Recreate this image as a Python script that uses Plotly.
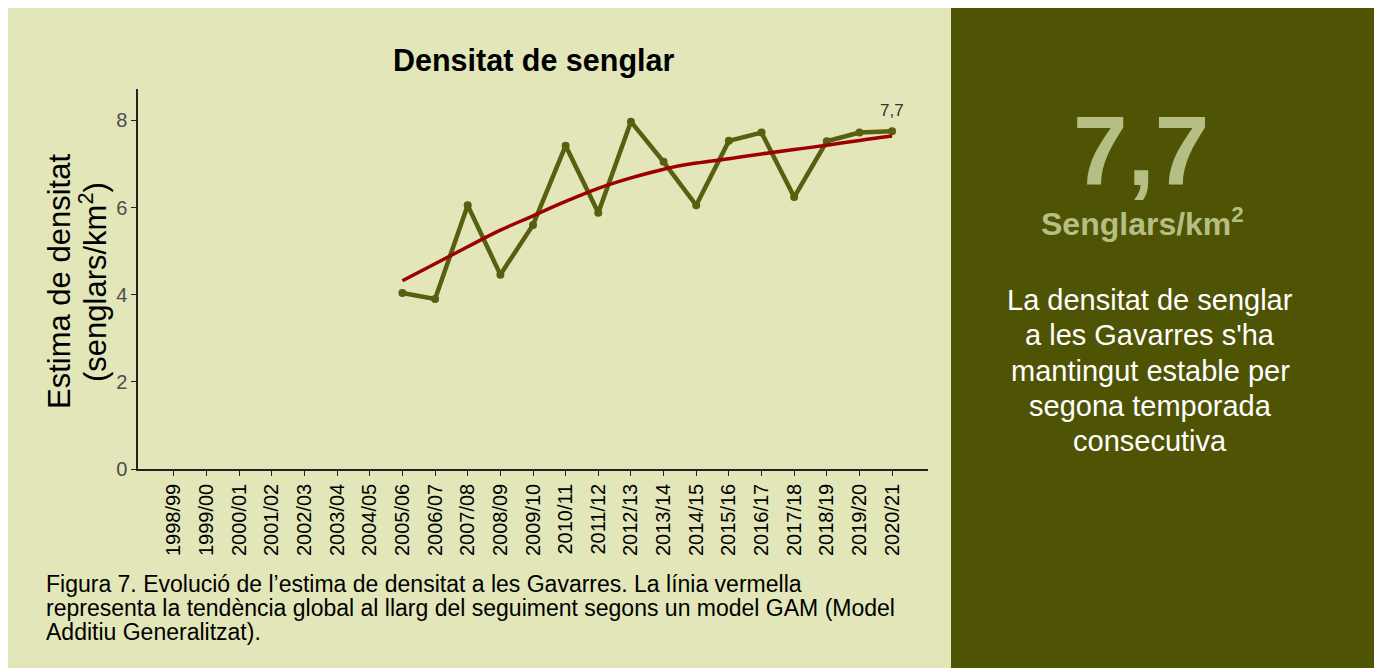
"""Densitat de senglar a les Gavarres - recreated with Plotly."""

import plotly.graph_objects as go

seasons = [
    "1998/99", "1999/00", "2000/01", "2001/02", "2002/03", "2003/04",
    "2004/05", "2005/06", "2006/07", "2007/08", "2008/09", "2009/10",
    "2010/11", "2011/12", "2012/13", "2013/14", "2014/15", "2015/16",
    "2016/17", "2017/18", "2018/19", "2019/20", "2020/21",
]
sampled_seasons = seasons[7:]
density = [4.04, 3.90, 6.05, 4.46, 5.60, 7.42, 5.88, 7.97, 7.05, 6.05,
           7.53, 7.72, 6.24, 7.52, 7.72, 7.75]
gam_trend = [4.32, 4.71, 5.10, 5.48, 5.81, 6.14, 6.44, 6.68, 6.88, 7.02,
             7.12, 7.23, 7.33, 7.43, 7.54, 7.64]
last_label = "7,7"

caption_lines = [
    "Figura 7. Evolució de l’estima de densitat a les Gavarres. La línia vermella",
    "representa la tendència global al llarg del seguiment segons un model GAM (Model",
    "Additiu Generalitzat).",
]
side_lines = [
    "La densitat de senglar",
    "a les Gavarres s'ha",
    "mantingut estable per",
    "segona temporada",
    "consecutiva",
]

FONT = "Liberation Sans, Arial, sans-serif"
LIGHT = "#E2E6B9"
DARK = "#4F5304"
PALE = "#B5BF83"
OLIVE = "#566010"
RED = "#9E0000"

# the page body adds an 8px margin, so the figure is drawn 8px smaller
OFF = 8
FIG_W, FIG_H = 1382 - OFF, 668 - OFF

# plot area in page pixels
L, R, T, B = 138, 928, 89, 469
W, H = R - L, B - T


def px_x(p):
    return (p - L) / W


def px_y(p):
    return (B - p) / H


fig = go.Figure()
fig.add_trace(
    go.Scatter(
        x=sampled_seasons,
        y=density,
        mode="lines+markers",
        line=dict(color=OLIVE, width=4.5),
        marker=dict(color=OLIVE, size=8),
        showlegend=False,
    )
)
fig.add_trace(
    go.Scatter(
        x=sampled_seasons,
        y=gam_trend,
        mode="lines",
        line=dict(color=RED, width=3.5, shape="spline"),
        showlegend=False,
    )
)

shapes = [
    dict(type="rect", xref="paper", yref="paper", layer="below",
         x0=px_x(OFF), x1=px_x(951), y0=px_y(668), y1=px_y(OFF),
         fillcolor=LIGHT, line_width=0),
    dict(type="rect", xref="paper", yref="paper", layer="below",
         x0=px_x(951), x1=px_x(1382), y0=px_y(668), y1=px_y(OFF),
         fillcolor=DARK, line_width=0),
]

annotations = [
    dict(text="<b>Densitat de senglar</b>", x=px_x(533), y=px_y(60),
         font=dict(size=30.5, color="#000000")),
    dict(text="Estima de densitat", x=px_x(59), y=px_y(282),
         textangle=-90, font=dict(size=31, color="#000000")),
    dict(text="(senglars/km<sup>2</sup>)", x=px_x(93), y=px_y(282),
         textangle=-90, font=dict(size=31, color="#000000")),
    dict(text=last_label, x=seasons[-1], y=density[-1], xref="x", yref="y",
         yshift=21, font=dict(size=17, color="#333333")),
    dict(text="<b>7,7</b>", x=px_x(1141), y=px_y(151),
         font=dict(size=98, color=PALE)),
    dict(text="<b>Senglars/km<sup>2</sup></b>", x=px_x(1142), y=px_y(222),
         font=dict(size=32, color=PALE)),
]
for i, line in enumerate(side_lines):
    annotations.append(
        dict(text=line, x=px_x(1150), y=px_y(300 + 35.3 * i),
             font=dict(size=29, color="#FFFFFF"))
    )
for i, line in enumerate(caption_lines):
    annotations.append(
        dict(text=line, x=px_x(44), y=px_y(584 + 24 * i), xanchor="left",
             font=dict(size=23, color="#000000"))
    )
for a in annotations:
    a.setdefault("xref", "paper")
    a.setdefault("yref", "paper")
    a.setdefault("xanchor", "center")
    a.setdefault("yanchor", "middle")
    a["showarrow"] = False

fig.update_layout(
    width=FIG_W,
    height=FIG_H,
    margin=dict(l=L - OFF, r=1382 - R, t=T - OFF, b=668 - B, pad=0),
    paper_bgcolor="#FFFFFF",
    plot_bgcolor="rgba(0,0,0,0)",
    font=dict(family=FONT),
    shapes=shapes,
    annotations=annotations,
    xaxis=dict(
        type="category",
        categoryorder="array",
        categoryarray=seasons,
        tickvals=seasons,
        ticktext=seasons,
        range=[-1.1, 23.1],
        tickangle=-90,
        tickfont=dict(size=20, color="#000000"),
        ticks="outside",
        ticklen=5,
        tickcolor="#222222",
        showline=True,
        linecolor="#222222",
        linewidth=1.5,
        showgrid=False,
        zeroline=False,
    ),
    yaxis=dict(
        range=[0, 8.72],
        tickvals=[0, 2, 4, 6, 8],
        tickfont=dict(size=20, color="#4D4D4D"),
        ticks="outside",
        ticklen=5,
        tickcolor="#222222",
        showline=True,
        linecolor="#222222",
        linewidth=1.5,
        showgrid=False,
        zeroline=False,
    ),
)

fig.write_html("out.html")
